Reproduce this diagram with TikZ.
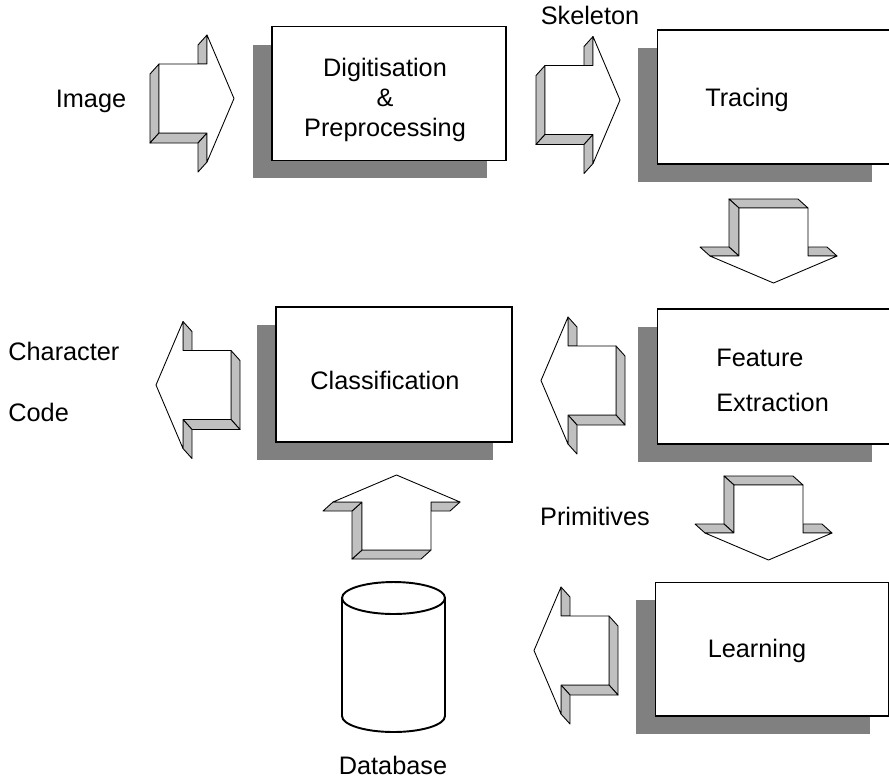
\documentclass[tikz,border=0pt]{standalone}
\usepackage{fontspec}
\setmainfont{Liberation Sans}
\usetikzlibrary{shadows}

\definecolor{shadowgray}{RGB}{128,128,128}
\definecolor{sidegray}{RGB}{192,192,192}

\tikzset{
  lbl/.style={font=\fontsize{14.4}{17}\selectfont, inner sep=0pt},
  procbox/.style={draw, fill=white, line width=0.6pt, minimum width=4.68cm, minimum height=2.68cm,
    drop shadow={shadow xshift=-0.38cm, shadow yshift=-0.36cm, fill=shadowgray, opacity=1}},
  arrowside/.style={fill=sidegray, draw=black, line width=0.5pt, line join=round},
  arrowface/.style={fill=white, draw=black, line width=0.5pt, line join=round},
  dbline/.style={line width=1.1pt},
  pics/blockarrow/.style={code={
    % sides first, face on top
    \filldraw[arrowside] (-48,-34.5) -- (-57,-24.5) -- (-57,44.5) -- (-48,34.5) -- cycle;
    \filldraw[arrowside] (-48,34.5) -- (-57,44.5) -- (-9,44.5) -- (0,34.5) -- cycle;
    \filldraw[arrowside] (0,-63.5) -- (-9,-53.5) -- (-9,-34.5) -- (0,-34.5) -- cycle;
    \filldraw[arrowside] (0,34.5) -- (-9,44.5) -- (-9,73.5) -- (0,63.5) -- cycle;
    \filldraw[arrowface] (-48,-34.5) -- (0,-34.5) -- (0,-63.5) -- (27,0) -- (0,63.5)
      -- (0,34.5) -- (-48,34.5) -- cycle;
  }}
}

\begin{document}
\begin{tikzpicture}[x=0.02cm, y=-0.02cm]
    \useasboundingbox (0,0) rectangle (889,779);

    % Boxes
    \node[procbox] (digit) at (389,93.5) {};
    \node[procbox] (tracing) at (774,97) {};
    \node[procbox, minimum width=4.72cm, minimum height=2.7cm] (classif) at (394,374.5) {};
    \node[procbox, minimum height=2.7cm] (feature) at (774,376.5) {};
    \node[procbox] (learning) at (772,649) {};

    % Box texts
    \node[lbl, align=center] (digit-txt) at (385,100) {Digitisation\\\&\\Preprocessing};
    \node[lbl] (tracing-txt) at (747,100) {Tracing};
    \node[lbl, align=left, anchor=west, font=\fontsize{14.4}{25.6}\selectfont] (feature-txt) at (716,380) {Feature\\Extraction};
    \node[lbl] (classif-txt) at (385,380) {Classification};
    \node[lbl] (learning-txt) at (757,651) {Learning};

    % Database
    \draw[dbline, fill=white] (342,598) -- (342,716) arc[start angle=180, end angle=360, x radius=1.03cm, y radius=0.32cm] -- (445,598);
    \draw[dbline] (393.5,598) ellipse [x radius=1.03cm, y radius=0.32cm];
    \node[lbl] (db) at (393,765) {Database};

    % Outside labels
    \node[lbl] (image) at (91,101) {Image};
    \node[lbl] (skeleton) at (590,15) {Skeleton};
    \node[lbl] (primitives) at (595,516) {Primitives};
    \node[lbl, align=left, anchor=west, font=\fontsize{14.4}{35}\selectfont] (charcode) at (8,382) {Character\\Code};

    % Block arrows
    \pic at (207,98.5) {blockarrow};
    \pic at (593,100) {blockarrow};
    \pic[rotate=-90] at (773.5,256) {blockarrow};
    \pic[xscale=-1] at (568,380.5) {blockarrow};
    \pic[xscale=-1] at (183,385) {blockarrow};
    \pic[xscale=-1, rotate=90] at (396.5,502) {blockarrow};
    \pic[rotate=-90] at (768.5,533) {blockarrow};
    \pic[xscale=-1] at (561,650.5) {blockarrow};
\end{tikzpicture}
\end{document}
